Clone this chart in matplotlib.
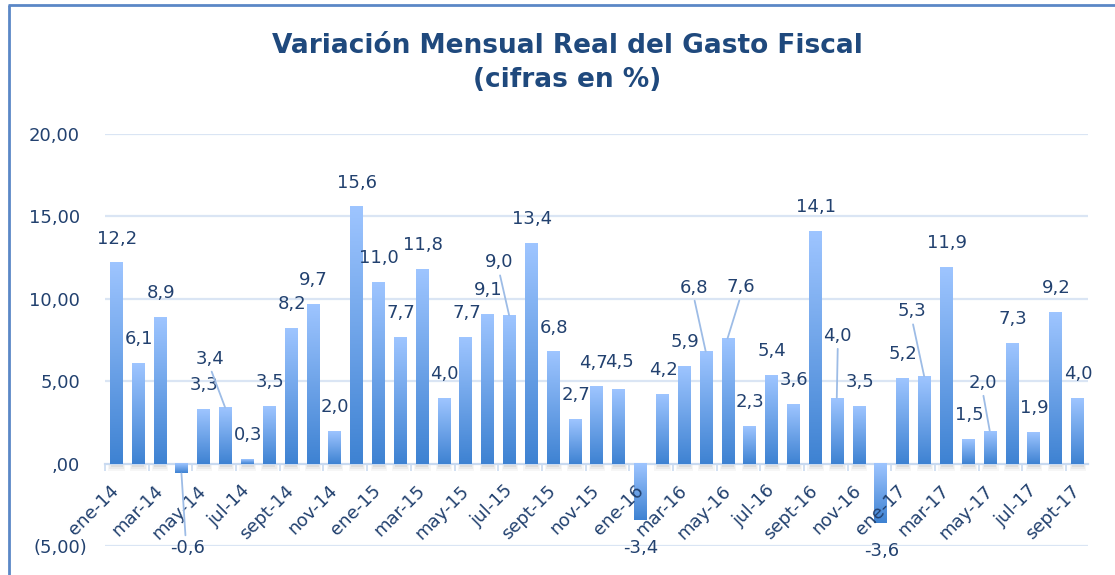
import matplotlib
matplotlib.use("Agg")
import matplotlib.pyplot as plt
import matplotlib.transforms as mtransforms
import numpy as np
from matplotlib.patches import Rectangle
from matplotlib.lines import Line2D

months = ["ene", "feb", "mar", "abr", "may", "jun", "jul", "ago", "sept", "oct", "nov", "dic"]
categories = [f"{m}-{y}" for y in ["14", "15", "16"] for m in months] + \
             [f"{m}-17" for m in months[:9]]

values = [12.2, 6.1, 8.9, -0.6, 3.3, 3.4, 0.3, 3.5, 8.2, 9.7, 2.0, 15.6,
          11.0, 7.7, 11.8, 4.0, 7.7, 9.1, 9.0, 13.4, 6.8, 2.7, 4.7, 4.5,
          -3.4, 4.2, 5.9, 6.8, 7.6, 2.3, 5.4, 3.6, 14.1, 4.0, 3.5, -3.6,
          5.2, 5.3, 11.9, 1.5, 2.0, 7.3, 1.9, 9.2, 4.0]

yticks = [-5, 0, 5, 10, 15, 20]
ytick_labels = ["(5,00)", ",00", "5,00", "10,00", "15,00", "20,00"]

title = "Variación Mensual Real del Gasto Fiscal\n(cifras en %)"

# label offsets in pixels (dx, dy) relative to bar end; leader flag
label_offsets = {3: (6, -75, True), 5: (-15, 49, True), 18: (-10, 53, True),
                 22: (-3, 23, False), 23: (1, 27, False),
                 27: (-12, 64, True), 28: (13, 51, True), 33: (1, 62, True),
                 37: (-12, 65, True), 40: (-7, 48, True)}

TXT = "#22416F"
fig = plt.figure(figsize=(11.15, 5.75), dpi=100)
ax = fig.add_axes([105/1115, 1-546/575, 983/1115, (546-134)/575])

n = len(values)
x = np.arange(n)

bw = 0.55
top_c = np.array([0x9E, 0xC5, 0xFF], dtype=float)
bot_c = np.array([0x3E, 0x82, 0xD2], dtype=float)
g = np.linspace(0, 1, 200)[:, None, None]
grad_img = (top_c * (1 - g) + bot_c * g).astype(np.uint8)  # row 0 = top

for i, v in enumerate(values):
    y0, y1 = min(0, v), max(0, v)
    if v > 0:
        # soft shadow below the bar
        for k, (ext, a) in enumerate([(0.10, 0.035), (0.05, 0.045), (0.0, 0.06)]):
            h = 0.42 - k * 0.1
            ax.add_patch(Rectangle((i - bw/2 - ext + 0.03, -h), bw + 2*ext, h,
                                   facecolor="#000000", alpha=a, lw=0, zorder=2))
    ax.imshow(grad_img, extent=[i - bw/2, i + bw/2, y0, y1], origin="upper",
              aspect="auto", zorder=3, interpolation="nearest")

ax.set_xlim(-0.5, n - 0.5)
ax.set_ylim(-5, 20)

# grid
for yt in yticks:
    if yt != 0:
        ax.axhline(yt, color="#DAE5F4", lw=1.6, zorder=1)

for s in ["top", "right", "left"]:
    ax.spines[s].set_visible(False)
ax.spines["bottom"].set_position(("data", 0))
ax.spines["bottom"].set_color("#C9DAF0")
ax.spines["bottom"].set_linewidth(1.6)
ax.spines["bottom"].set_zorder(2.5)

ax.set_yticks(yticks)
ax.set_yticklabels(ytick_labels)
ax.tick_params(axis="y", length=0, pad=18, labelsize=13, labelcolor=TXT)
for t in ax.get_yticklabels():
    if t.get_text().startswith("("):
        t.set_transform(t.get_transform() + mtransforms.ScaledTranslation(7/100, 0, fig.dpi_scale_trans))

ax.set_xticks(x[::2])
ax.set_xticklabels(categories[::2], rotation=45, ha="right", va="top",
                   rotation_mode="anchor")
ax.tick_params(axis="x", which="major", length=0, pad=13, labelsize=13, labelcolor=TXT)
for t in ax.get_xticklabels():
    t.set_transform(t.get_transform() + mtransforms.ScaledTranslation(-6/100, 0, fig.dpi_scale_trans))
ax.set_xticks(np.arange(-0.5, n, 2), minor=True)
ax.tick_params(axis="x", which="minor", length=5, width=1.2, color="#C9DAF0", direction="out")
ax.xaxis.set_zorder(4)

# data labels
for i, v in enumerate(values):
    lab = f"{v:.1f}".replace(".", ",")
    if i in label_offsets:
        dx, dy, lead = label_offsets[i]
    else:
        dx, dy, lead = (1, 24, False) if v >= 0 else (1, -28, False)
    kw = {}
    if lead:
        kw["arrowprops"] = dict(arrowstyle="-", color="#9DBCE6", lw=1.3,
                                shrinkA=1, shrinkB=0,
                                relpos=(0.5, 0.0) if dy > 0 else (0.45, 1.0))
    ax.annotate(lab, xy=(i, v), xytext=(dx, dy), textcoords="offset pixels",
                ha="center", va="center", fontsize=13, color=TXT, zorder=5,
                annotation_clip=False, **kw)

fig.text(567.5/1115, 1 - 63/575, title, ha="center", va="center", fontsize=19,
         fontweight="bold", color="#1F497D", linespacing=1.4)

# chart border (left & top)
fig.add_artist(Line2D([9/1115, 9/1115], [-0.01, 1 - 5/575], transform=fig.transFigure,
                      color="#5B87C6", lw=2, solid_capstyle="butt"))
fig.add_artist(Line2D([8/1115, 1.01], [1 - 5/575, 1 - 5/575], transform=fig.transFigure,
                      color="#5B87C6", lw=2, solid_capstyle="butt"))

fig.savefig("out.png", dpi=100)
